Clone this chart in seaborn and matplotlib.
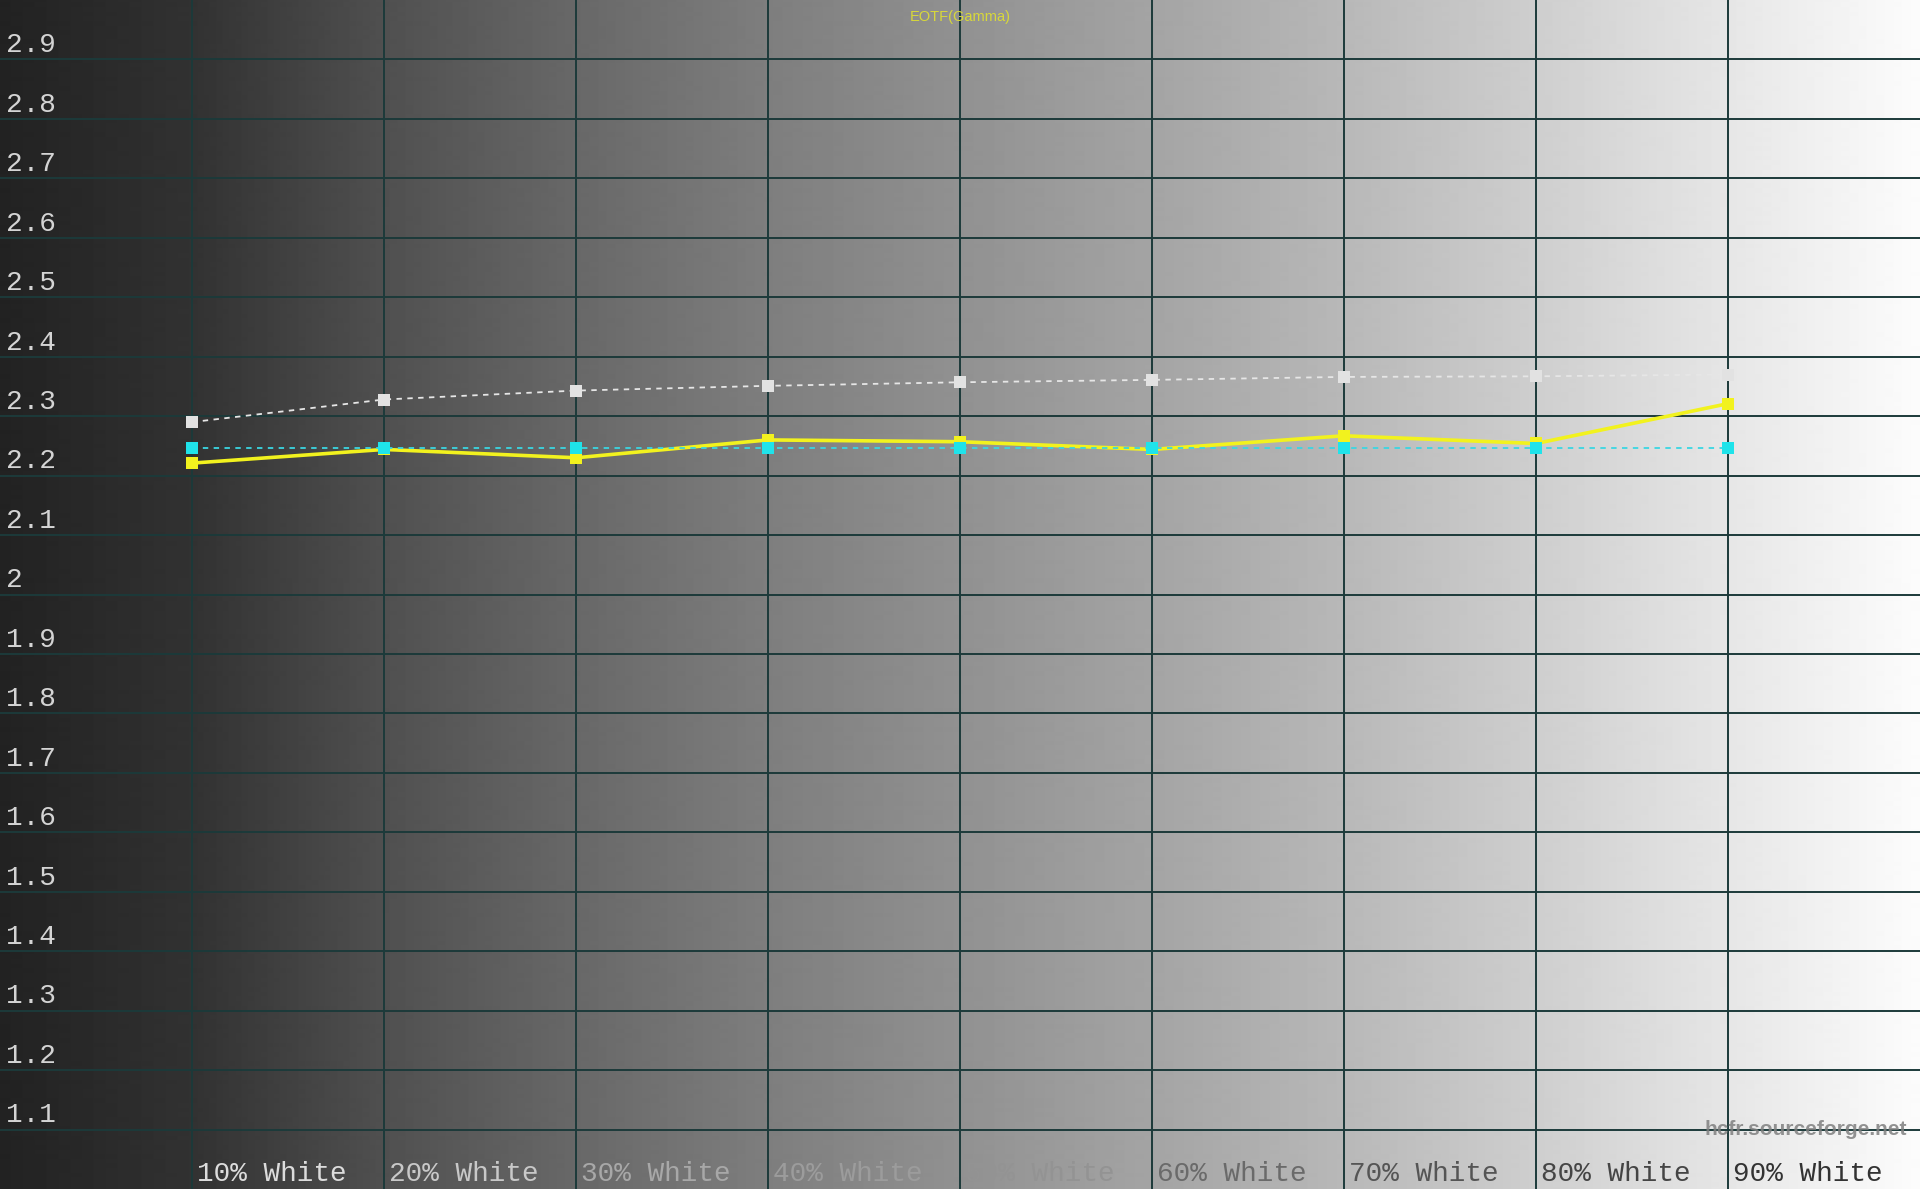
import numpy as np
import pandas as pd
import matplotlib
matplotlib.use('Agg')
import matplotlib.pyplot as plt
import seaborn as sns

# Gamma values
levels = ['10% White', '20% White', '30% White', '40% White', '50% White',
          '60% White', '70% White', '80% White', '90% White']
level_pct = [10, 20, 30, 40, 50, 60, 70, 80, 90]
measured = [2.221, 2.244, 2.230, 2.260, 2.257, 2.244, 2.267, 2.254, 2.321]
target = [2.246, 2.246, 2.246, 2.246, 2.246, 2.246, 2.246, 2.246, 2.246]
reference = [2.290, 2.328, 2.343, 2.351, 2.357, 2.361, 2.366, 2.367, 2.370]
y_ticks = [1.1, 1.2, 1.3, 1.4, 1.5, 1.6, 1.7, 1.8, 1.9, 2.0,
           2.1, 2.2, 2.3, 2.4, 2.5, 2.6, 2.7, 2.8, 2.9]
y_labels = ['1.1', '1.2', '1.3', '1.4', '1.5', '1.6', '1.7', '1.8', '1.9', '2',
            '2.1', '2.2', '2.3', '2.4', '2.5', '2.6', '2.7', '2.8', '2.9']

df = pd.DataFrame({'level': level_pct, 'measured': measured,
                   'target': target, 'reference': reference})

sns.set_style('white')
fig = plt.figure(figsize=(19.2, 11.89), dpi=100)
ax = fig.add_axes([0, 0, 1, 1])

# grey ramp background (left dark -> right white)
ramp_x = [0, 10, 20, 30, 40, 50, 60, 70, 80, 90, 100]
ramp_v = [34, 50, 80, 104, 126, 145, 164, 184, 206, 230, 252]
xs = np.linspace(0, 100, 1920)
bg = np.interp(xs, ramp_x, ramp_v)
ax.imshow(bg[None, :], extent=[0, 100, 1.0, 3.0], aspect='auto',
          cmap='gray', vmin=0, vmax=255, zorder=0, interpolation='bilinear')

# label greys: HCFR draws them roughly inverted against the ramp
label_grey = ['#dcdcdc', '#c8c8c8', '#a8a8a8', '#9c9c9c', '#939393',
              '#6a6a6a', '#555555', '#454545', '#333333']

ax.set_xlim(0, 100)
ax.set_ylim(1.0, 3.0)
ax.set_xticks(level_pct)
ax.set_yticks(y_ticks)
ax.grid(True, color='#1c3a3a', linewidth=1.4, zorder=1)
ax.tick_params(length=0, labelbottom=False, labelleft=False)
for s in ax.spines.values():
    s.set_visible(False)

sns.lineplot(data=df, x='level', y='measured', ax=ax, color='#f2f21e',
             linewidth=2.6, marker='s', markersize=8, markeredgewidth=0,
             zorder=3)
sns.lineplot(data=df, x='level', y='target', ax=ax, color='#3ad6e2',
             linewidth=1.3, linestyle=(0, (3, 3)), marker='s', markersize=8,
             markerfacecolor='#1fe3ea', markeredgewidth=0, zorder=4)
sns.lineplot(data=df, x='level', y='reference', ax=ax, color='#e6e6e6',
             linewidth=1.3, linestyle=(0, (3, 3)), marker='s', markersize=8,
             markerfacecolor='#e2e2e2', markeredgewidth=0, zorder=4)
ax.set_xlabel('')
ax.set_ylabel('')

# y labels sit just above their gridline
for v, lab in zip(y_ticks, y_labels):
    ax.text(0.3, v + 0.002, lab, family='Liberation Mono', fontsize=20,
            color='#d4d4d4', ha='left', va='bottom', zorder=5)

# x labels along the bottom edge
for p, lab, c in zip(level_pct, levels, label_grey):
    ax.text(p + 0.25, 1.004, lab, family='Liberation Mono', fontsize=20,
            color=c, ha='left', va='bottom', zorder=5)

ax.text(50, 2.972, 'EOTF(Gamma)', family='Liberation Sans', fontsize=10.5,
        color='#d8d83a', ha='center', va='center', zorder=5)
ax.text(99.3, 1.1, 'hcfr.sourceforge.net', family='Liberation Sans',
        fontsize=15, fontweight='bold', color='#808080', alpha=0.85,
        ha='right', va='center', zorder=5)

fig.savefig('out.png', dpi=100)
